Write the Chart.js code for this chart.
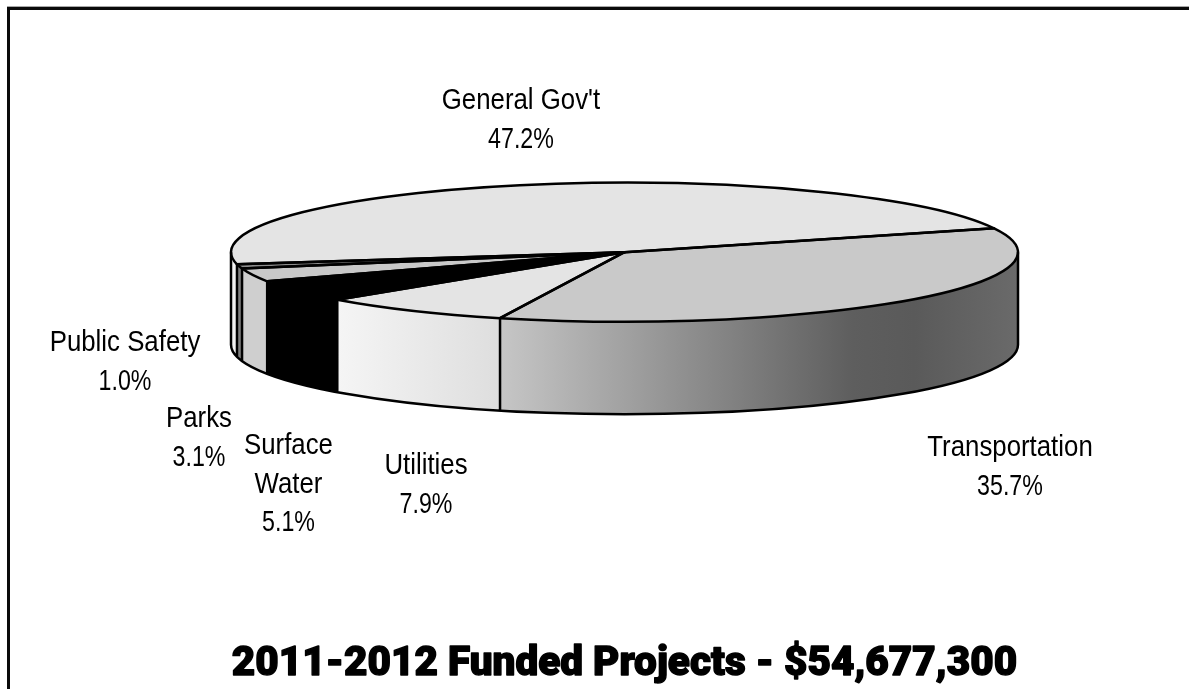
<!DOCTYPE html>
<html>
<head>
<meta charset="utf-8">
<style>
  html, body { margin: 0; padding: 0; background: #fff; }
  canvas { display: block; }
</style>
<script src="https://cdn.jsdelivr.net/npm/chart.js@4/dist/chart.umd.min.js"></script>
</head>
<body>
<canvas id="fundedChart" width="1189" height="689"></canvas>
<script>
const categories = ["General Gov't", "Transportation", "Utilities", "Surface Water", "Parks", "Public Safety"];
const shares = [47.2, 35.7, 7.9, 5.1, 3.1, 1.0];
const titleText = "2011-2012 Funded Projects - $54,677,300";

const topColors = ["#e4e4e4", "#c9c9c9", "#e4e4e4", "#000000", "#c9c9c9", "#8c8c8c"];
// side wall shading, left to right
const wallStops = [
  [[0, "#f2f2f2"], [1, "#f2f2f2"]],
  [[0, "#c6c6c6"], [0.68, "#5e5e5e"], [0.8, "#5a5a5a"], [1, "#6a6a6a"]],
  [[0, "#f5f5f5"], [1, "#dedede"]],
  [[0, "#000000"], [1, "#000000"]],
  [[0, "#cfcfcf"], [1, "#cfcfcf"]],
  [[0, "#808080"], [1, "#808080"]],
];

// where each label block sits: centre x, first baseline
const labelSpots = [
  { x: 521, y: 109 },
  { x: 1010, y: 456 },
  { x: 426, y: 474 },
  { x: 288.5, y: 454, wrap: true },
  { x: 199, y: 427 },
  { x: 125, y: 351 },
];

const RX = 393.5; // pie width on screen
const RY = 69.5;  // squashed height
const DEPTH = 92.5;
const LINE = "#000";
const NAME_SQUEEZE = 0.89;
const PERCENT_SQUEEZE = 0.8;
const TITLE_SIZE = 40.5;

function arcShape(chart) {
  const arcs = chart.getDatasetMeta(0).data;
  const { x, y, outerRadius } = arcs[0];
  return { arcs, x, y, sx: RX / outerRadius, sy: RY / outerRadius };
}

// part of an arc that faces the viewer (angles 0..PI)
function frontPart(arc) {
  for (const k of [-1, 0, 1]) {
    const a = Math.max(arc.startAngle + k * 2 * Math.PI, 0);
    const b = Math.min(arc.endAngle + k * 2 * Math.PI, Math.PI);
    if (b > a) return [a, b];
  }
  return null;
}

const pie3d = {
  id: "pie3d",
  beforeDraw(chart) {
    const ctx = chart.ctx;
    ctx.save();
    ctx.fillStyle = "#fff";
    ctx.fillRect(0, 0, chart.width, chart.height);
    // frame, top and left only
    ctx.fillStyle = "#a8a8a8";
    ctx.fillRect(7, 6, chart.width - 7, 1);
    ctx.fillStyle = "#0a0a0a";
    ctx.fillRect(7, 7, chart.width - 7, 3);
    ctx.fillRect(7, 7, 3, chart.height - 7);
    ctx.restore();
  },
  beforeDatasetsDraw(chart) {
    const ctx = chart.ctx;
    const { arcs, x, y, sx, sy } = arcShape(chart);

    arcs.forEach((arc, i) => {
      const part = frontPart(arc);
      if (!part) return;
      const [a, b] = part;
      const x0 = x + RX * Math.cos(b);
      const x1 = x + RX * Math.cos(a);
      const grad = ctx.createLinearGradient(x0, 0, x1, 0);
      wallStops[i].forEach(([pos, color]) => grad.addColorStop(pos, color));
      ctx.beginPath();
      ctx.ellipse(x, y, RX, RY, 0, a, b);
      ctx.ellipse(x, y + DEPTH, RX, RY, 0, b, a, true);
      ctx.closePath();
      ctx.fillStyle = grad;
      ctx.fill();
    });

    ctx.save();
    ctx.translate(x, y);
    ctx.scale(sx, sy);
    ctx.translate(-x, -y);
  },
  afterDatasetsDraw(chart) {
    const ctx = chart.ctx;
    ctx.restore();
    const { arcs, x, y } = arcShape(chart);

    ctx.save();
    ctx.strokeStyle = LINE;
    ctx.lineWidth = 2.5;
    ctx.lineJoin = "round";

    // slice edges on the top face
    arcs.forEach((arc) => {
      ctx.beginPath();
      ctx.moveTo(x, y);
      ctx.ellipse(x, y, RX, RY, 0, arc.startAngle, arc.endAngle);
      ctx.closePath();
      ctx.stroke();
    });

    // rim of the wall and the seams between slices
    ctx.beginPath();
    ctx.ellipse(x, y + DEPTH, RX, RY, 0, 0, Math.PI);
    ctx.moveTo(x + RX, y);
    ctx.lineTo(x + RX, y + DEPTH);
    ctx.moveTo(x - RX, y);
    ctx.lineTo(x - RX, y + DEPTH);
    arcs.forEach((arc) => {
      const part = frontPart(arc);
      if (!part || part[1] >= Math.PI) return;
      const px = x + RX * Math.cos(part[1]);
      const py = y + RY * Math.sin(part[1]);
      ctx.moveTo(px, py);
      ctx.lineTo(px, py + DEPTH);
    });
    ctx.stroke();
    ctx.restore();
  },
  afterDraw(chart) {
    const ctx = chart.ctx;
    ctx.save();
    ctx.fillStyle = "#000";
    ctx.font = "29px 'Liberation Sans', sans-serif";
    ctx.textAlign = "center";
    categories.forEach((name, i) => {
      const spot = labelSpots[i];
      const lines = spot.wrap ? name.split(" ") : [name];
      lines.forEach((line, n) => {
        const narrow = ctx.measureText(line).width * NAME_SQUEEZE;
        ctx.fillText(line, spot.x, spot.y + n * 38.5, narrow);
      });
      const pct = shares[i].toFixed(1) + "%";
      const narrow = ctx.measureText(pct).width * PERCENT_SQUEEZE;
      ctx.fillText(pct, spot.x, spot.y + lines.length * 38.5, narrow);
    });

    // fatten the title a little, Roboto Black alone is too light
    const block = chart.titleBlock;
    ctx.font = "900 " + TITLE_SIZE + "px Roboto, sans-serif";
    ctx.textBaseline = "middle";
    ctx.lineJoin = "round";
    ctx.lineWidth = 1.4;
    ctx.strokeStyle = "#000";
    ctx.strokeText(titleText, block.left + block.width / 2, block.bottom - (TITLE_SIZE * 1.2) / 2);
    ctx.restore();
  },
};

new Chart(document.getElementById("fundedChart"), {
  type: "pie",
  data: {
    labels: categories,
    datasets: [
      {
        data: shares,
        backgroundColor: topColors,
        borderWidth: 0,
      },
    ],
  },
  plugins: [pie3d],
  options: {
    responsive: false,
    animation: false,
    rotation: -100,
    layout: { padding: { left: 60 } },
    plugins: {
      legend: { display: false },
      tooltip: { enabled: false },
      title: {
        display: true,
        position: "bottom",
        text: titleText,
        color: "#000",
        font: { family: "Roboto, sans-serif", size: TITLE_SIZE, weight: "900", lineHeight: 1.2 },
        padding: { top: 136, bottom: 0 },
      },
    },
  },
});
</script>
</body>
</html>
